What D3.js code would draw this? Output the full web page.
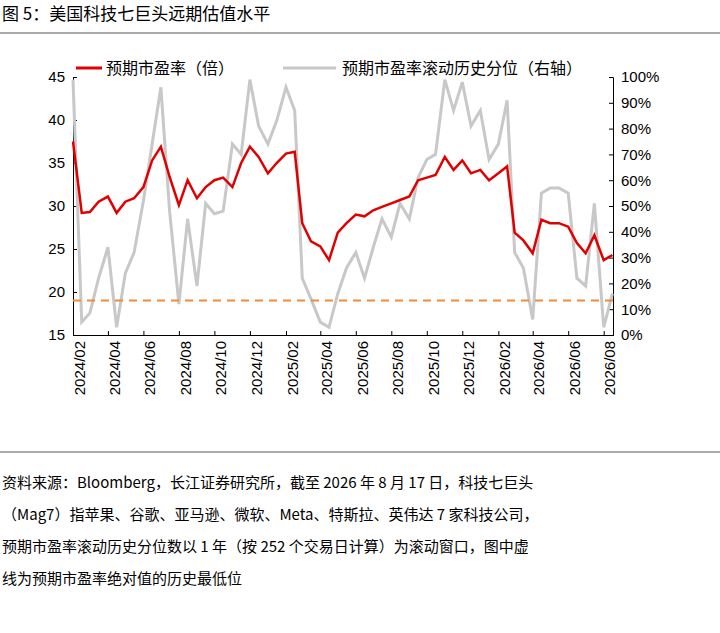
<!DOCTYPE html>
<html><head><meta charset="utf-8">
<script src="https://cdn.jsdelivr.net/npm/d3@7"></script>
<style>body{margin:0;background:#fff;font-family:"Noto Sans CJK SC",Arial,sans-serif}</style>
</head><body>
<svg width="720" height="633"></svg>
<script>
// half-month sample dates, 2024/02/01 .. 2026/08/16
const startDate = new Date(2024, 1, 1);
const endDate = new Date(2026, 7, 17);
const peValues = [37.5, 29.2, 29.3, 30.5, 31.1, 29.2, 30.5, 30.9, 32.2, 35.3, 36.9, 33.4, 30.1, 33.0, 30.9, 32.2,
  33.0, 33.3, 32.2, 35.0, 36.9, 35.7, 33.8, 35.0, 36.1, 36.3, 28.0, 25.9, 25.3, 23.7, 26.9, 28.0,
  29.0, 28.8, 29.5, 29.9, 30.3, 30.7, 31.1, 33.0, 33.3, 33.6, 35.7, 34.2, 35.3, 33.8, 34.2, 33.0,
  33.8, 34.6, 26.9, 26.0, 24.5, 28.4, 28.0, 28.0, 27.6, 25.7, 24.5, 26.6, 23.7, 24.3];
const pctValues = [99, 5, 8.5, 22, 34, 3, 24, 32, 52, 74, 96, 48, 12, 45, 19, 51,
  47, 48, 74, 70, 99, 81, 74, 83, 96, 87, 22, 14, 5, 3, 16, 26,
  32, 22, 34, 45, 38, 51, 45, 61, 68, 70, 99, 87, 98, 81, 87, 68,
  74, 91, 32, 26, 6, 55, 57, 57, 55, 22, 19, 51, 3, 16];
const peFloor = 19;
const yTicksLeft = [15, 20, 25, 30, 35, 40, 45];
const yTicksRight = [0, 10, 20, 30, 40, 50, 60, 70, 80, 90, 100];
const notes = [
  '资料来源：Bloomberg，长江证券研究所，截至 2026 年 8 月 17 日，科技七巨头',
  '（Mag7）指苹果、谷歌、亚马逊、微软、Meta、特斯拉、英伟达 7 家科技公司，',
  '预期市盈率滚动历史分位数以 1 年（按 252 个交易日计算）为滚动窗口，图中虚',
  '线为预期市盈率绝对值的历史最低位'
];

const dates = peValues.map((d, i) => new Date(2024, 1 + Math.floor(i / 2), i % 2 ? 16 : 1));

const svg = d3.select('svg');
const plot = { left: 73, right: 613, top: 77, bottom: 335 };

const x = d3.scaleTime().domain([startDate, endDate]).range([plot.left, plot.right]);
const y = d3.scaleLinear().domain([15, 45]).range([plot.bottom, plot.top]);
const y2 = d3.scaleLinear().domain([0, 100]).range([plot.bottom, plot.top]);

// title
svg.append('text').attr('x', 2).attr('y', 20).style('font-size', '17px').attr('fill', '#000')
  .text('图 5：美国科技七巨头远期估值水平');
svg.append('line').attr('x1', 0).attr('x2', 720).attr('y1', 33).attr('y2', 33).attr('stroke', '#555');

// axes
const fontAx = '15px';
svg.append('g').attr('transform', `translate(${plot.left},0)`)
  .call(d3.axisLeft(y).tickValues(yTicksLeft).tickSize(-4).tickPadding(8))
  .call(g => g.selectAll('text').style('font-size', fontAx).style('font-family', 'Arial'));
svg.append('g').attr('transform', `translate(${plot.right},0)`)
  .call(d3.axisRight(y2).tickValues(yTicksRight).tickSize(-4).tickPadding(8).tickFormat(d => d + '%'))
  .call(g => g.selectAll('text').style('font-size', fontAx).style('font-family', 'Arial'));
const monthTicks = d3.range(0, 16).map(i => new Date(2024, 1 + i * 2, 1));
svg.append('g').attr('transform', `translate(0,${plot.bottom})`)
  .call(d3.axisBottom(x).tickValues(monthTicks).tickSize(-4).tickFormat(d3.timeFormat('%Y/%m')))
  .call(g => g.selectAll('text').style('font-size', fontAx).style('font-family', 'Arial')
    .attr('transform', 'rotate(-90)').attr('text-anchor', 'end').attr('x', -6).attr('y', 6).attr('dy', '0.35em'));
svg.selectAll('.domain').attr('stroke', '#000');
svg.selectAll('.tick line').attr('stroke', '#000');

// grey percentile line
svg.append('path').datum(pctValues)
  .attr('fill', 'none').attr('stroke', '#c8c8c8').attr('stroke-width', 3)
  .attr('d', d3.line().x((d, i) => x(dates[i])).y(d => y2(d)));

// red PE line
svg.append('path').datum(peValues)
  .attr('fill', 'none').attr('stroke', '#e00000').attr('stroke-width', 2.5)
  .attr('d', d3.line().x((d, i) => x(dates[i])).y(d => y(d)));

// dashed floor
svg.append('line').attr('x1', plot.left).attr('x2', plot.right).attr('y1', y(peFloor)).attr('y2', y(peFloor))
  .attr('stroke', '#f08a3c').attr('stroke-width', 2).attr('stroke-dasharray', '8,6');

// legend
const lg = svg.append('g').style('font-size', '16px');
lg.append('line').attr('x1', 76).attr('x2', 102).attr('y1', 68).attr('y2', 68).attr('stroke', '#e00000').attr('stroke-width', 3);
lg.append('text').attr('x', 106).attr('y', 74).text('预期市盈率（倍）');
lg.append('line').attr('x1', 283).attr('x2', 336).attr('y1', 68).attr('y2', 68).attr('stroke', '#c8c8c8').attr('stroke-width', 3);
lg.append('text').attr('x', 342).attr('y', 74).text('预期市盈率滚动历史分位（右轴）');

// notes
svg.append('line').attr('x1', 0).attr('x2', 720).attr('y1', 452).attr('y2', 452).attr('stroke', '#555');
svg.selectAll('.note').data(notes).join('text').attr('class', 'note')
  .attr('x', 2).attr('y', (d, i) => 488 + i * 32).style('font-size', '15px').text(d => d);
</script>
</body></html>
